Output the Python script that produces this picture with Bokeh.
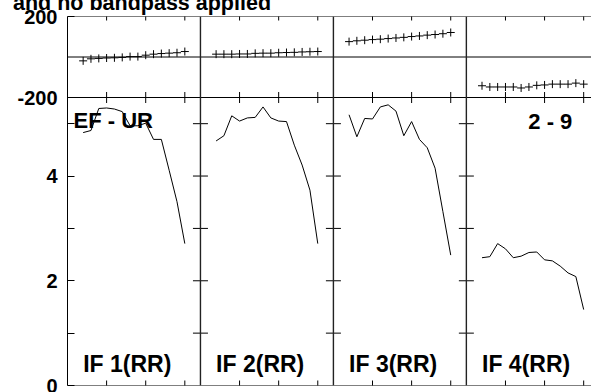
import math
from bokeh.plotting import figure
from bokeh.models import Span, Label, FixedTicker, LinearAxis, Range1d, Div
from bokeh.layouts import column
from bokeh.embed import file_html
from bokeh.resources import INLINE

# ---------------- data ----------------
title_text = "and no bandpass applied"
baseline_label = "EF - UR"
time_label = "2 - 9"
if_labels = ["IF 1(RR)", "IF 2(RR)", "IF 3(RR)", "IF 4(RR)"]

channels = [2, 3, 4, 5, 6, 7, 8, 9, 10, 11, 12, 13, 14, 15]
chan_per_panel = 17
chan_ticks = [5, 10, 15]

phase_if1 = [-19, -9, -7, -5, -4, -2, 2, 2, 9, 14, 17, 19, 21, 27]
phase_if2 = [14, 14, 14, 15, 15, 18, 19, 19, 21, 22, 23, 25, 26, 27]
phase_if3 = [76, 80, 83, 86, 88, 91, 94, 97, 101, 104, 108, 111, 115, 121]
phase_if4 = [-142, -148, -148, -148, -148, -153, -148, -140, -138, -134, -134, -134, -129, -134]

amp_if1 = [4.83, 4.87, 5.29, 5.30, 5.28, 5.23, 4.96, 4.96, 5.01, 4.70, 4.70, 4.11, 3.51, 2.71]
amp_if2 = [4.67, 4.77, 5.15, 5.05, 5.11, 5.12, 5.32, 5.11, 5.05, 5.04, 4.59, 4.21, 3.73, 2.71]
amp_if3 = [5.17, 4.75, 5.10, 5.09, 5.32, 5.36, 5.24, 4.77, 5.04, 4.70, 4.54, 4.15, 3.32, 2.49]
amp_if4 = [2.44, 2.46, 2.71, 2.61, 2.44, 2.47, 2.54, 2.55, 2.40, 2.38, 2.28, 2.15, 2.08, 1.45]

phase_lim = 200
phase_labels = {-200: "-200", 200: "200"}
amp_top = 5.5
amp_major = [0, 2, 4]
amp_minor = [1, 3, 5]
x_view = (0, 67)

phases = [phase_if1, phase_if2, phase_if3, phase_if4]
amps = [amp_if1, amp_if2, amp_if3, amp_if4]

# ---------------- layout constants ----------------
FONT = "Liberation Sans"
W, H = 591, 392
LEFT, TOP, BOTTOM = 67, 16, 7
PHASE_PX = 81                      # height of the phase strip
AMP_PX = H - TOP - BOTTOM - PHASE_PX  # height of the amplitude strip

n_panels = len(if_labels)
dividers = [k * chan_per_panel for k in range(1, n_panels)]
x_tick_all = [k * chan_per_panel + c for k in range(n_panels) for c in chan_ticks]

amp_end = amp_top * (AMP_PX + PHASE_PX) / AMP_PX
phase_start = -phase_lim - 2 * phase_lim * AMP_PX / PHASE_PX


def phase_to_amp(v):
    return amp_top + (v + phase_lim) * (amp_end - amp_top) / (2 * phase_lim)


p = figure(width=W, height=H, x_range=Range1d(*x_view), y_range=Range1d(0, amp_end),
           output_backend="svg", toolbar_location=None,
           x_axis_location=None, y_axis_location=None,
           min_border_left=LEFT, min_border_right=0,
           min_border_top=TOP, min_border_bottom=BOTTOM)
p.extra_y_ranges = {"phase": Range1d(phase_start, phase_lim)}
p.outline_line_color = None
p.grid.visible = False

# left axis: amplitude labels plus phase labels at their own positions
lab_ticks = amp_major + [phase_to_amp(v) for v in phase_labels]
overrides = {t: str(t) for t in amp_major}
for v, s in phase_labels.items():
    overrides[phase_to_amp(v)] = s
ax = LinearAxis(ticker=FixedTicker(ticks=lab_ticks, minor_ticks=amp_minor),
                major_tick_in=7, major_tick_out=0, minor_tick_in=7, minor_tick_out=0,
                major_tick_line_color="black", minor_tick_line_color="black",
                axis_line_color="black", major_label_overrides=overrides,
                major_label_text_font=FONT, major_label_text_font_style="bold",
                major_label_text_font_size="20px", major_label_text_color="black",
                major_label_standoff=10)
p.add_layout(ax, "left")

# frame lines
line_kw = dict(line_color="black", line_width=1)
p.add_layout(Span(location=phase_lim, dimension="width", y_range_name="phase", **line_kw))
p.add_layout(Span(location=0, dimension="width", y_range_name="phase", **line_kw))
p.add_layout(Span(location=amp_top, dimension="width", **line_kw))
p.add_layout(Span(location=0, dimension="width", **line_kw))
for d in dividers:
    p.add_layout(Span(location=d, dimension="height", line_color="#222222", line_width=1.4))

# tick marks (clipped to the frame)
tick_kw = dict(marker="dash", line_color="black", line_width=1, angle=math.pi / 2)
p.scatter(x_tick_all, [phase_lim] * len(x_tick_all), y_range_name="phase", size=8, **tick_kw)
p.scatter(x_tick_all, [amp_top] * len(x_tick_all), size=11, **tick_kw)
p.scatter(x_tick_all, [0] * len(x_tick_all), size=10, **tick_kw)
div_x = [d for d in dividers for t in amp_major[1:] + amp_minor]
div_y = [t for d in dividers for t in amp_major[1:] + amp_minor]
p.scatter(div_x, div_y, marker="dash", size=15, line_color="black", line_width=1)

# data
for k in range(n_panels):
    xs = [k * chan_per_panel + c for c in channels]
    p.scatter(xs, phases[k], y_range_name="phase", marker="cross", size=8,
              line_color="black", line_width=1)
    p.line(xs, amps[k], line_color="black", line_width=1)
    p.add_layout(Label(x=k * chan_per_panel + 2, y=0.41, text=if_labels[k],
                       text_font=FONT, text_font_style="bold", text_font_size="23px",
                       text_color="black", text_baseline="alphabetic"))

p.add_layout(Label(x=0.77, y=5.07, text=baseline_label, text_font=FONT,
                   text_font_style="bold", text_font_size="22px", text_color="black",
                   text_baseline="alphabetic"))
p.add_layout(Label(x=3 * chan_per_panel + 13.55, y=5.05, text=time_label, text_font=FONT,
                   text_font_style="bold", text_font_size="22px", text_color="black",
                   text_baseline="alphabetic", text_align="right"))

# page title, only its lower part lies inside the window
title = Div(text=title_text, width=320, height=24,
            styles={"position": "absolute", "top": "-13px", "left": "8px", "z-index": "10",
                    "font-family": "'Liberation Sans'", "font-weight": "bold",
                    "font-size": "21.5px", "line-height": "22px", "white-space": "nowrap",
                    "color": "black"})

layout = column(title, p, spacing=0)
open("out.html", "w").write(file_html(layout, INLINE))
